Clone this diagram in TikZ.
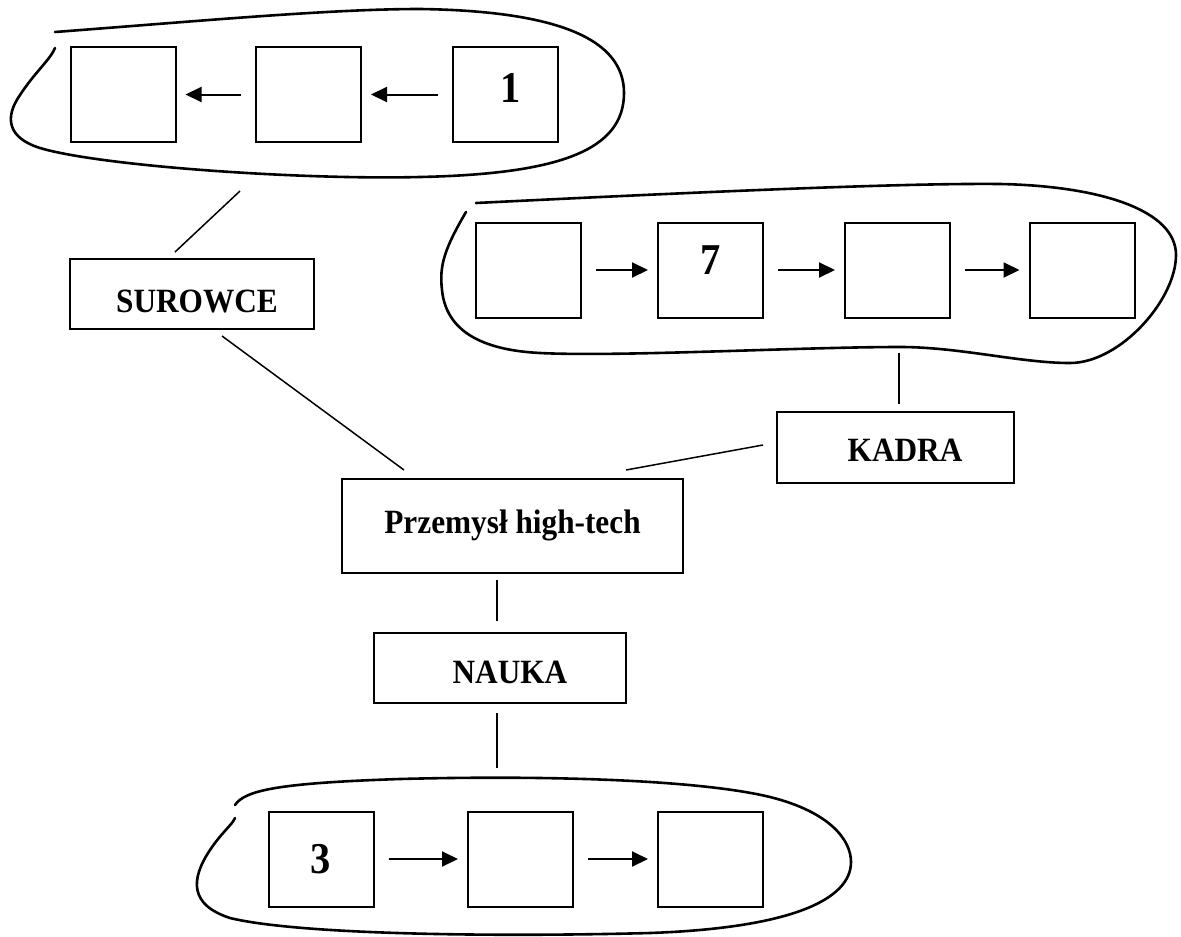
\documentclass[tikz,border=0pt]{standalone}
\usepackage{fontspec}
\setmainfont{Liberation Serif}
\newfontfamily\labfont[FakeStretch=0.92]{Liberation Serif}
\usetikzlibrary{arrows.meta}
\tikzset{
  sq/.style={draw, line width=2pt, minimum width=105pt, minimum height=95pt, inner sep=0pt,
    font=\labfont\bfseries\fontsize{44}{50}\selectfont},
  lbl/.style={draw, line width=2pt, inner sep=0pt, font=\labfont\bfseries\fontsize{34}{40}\selectfont},
  blob/.style={line width=2.6pt, line cap=round},
  conn/.style={line width=1.5pt},
  arr/.style={line width=2pt, -{Triangle[length=16pt,width=15pt]}, shorten <=14pt, shorten >=9pt},
}
\begin{document}
\begin{tikzpicture}[x=1pt,y=-1pt]
\useasboundingbox (0,0) rectangle (1181,937);

% ---- top group
\node[sq] (A) at (123,94.5) {};
\node[sq] (B) at (308.5,94.5) {};
\node[sq, text height=16pt, text depth=0pt] (C) at (505.5,94.5) {\hspace*{11pt}1};
\draw[arr] (B) -- (A);
\draw[arr] (C) -- (B);
\draw[blob] (55,32) .. controls (200,21) and (330,9) .. (420,9)
  .. controls (560,11) and (624,40) .. (624,93)
  .. controls (624,150) and (560,174) .. (420,177)
  .. controls (300,180) and (100,166) .. (40,148)
  .. controls (8,138) and (4,118) .. (20,95)
  .. controls (35,72) and (50,60) .. (55,48);

% ---- middle group
\node[sq] (D) at (528.5,270) {};
\node[sq, text height=9pt, text depth=0pt] (E) at (710.5,270) {7};
\node[sq] (F) at (897.5,270) {};
\node[sq] (G) at (1082,270) {};
\draw[arr] (D) -- (E);
\draw[arr] (E) -- (F);
\draw[arr] (F) -- (G);
\draw[blob] (476,203) .. controls (700,192) and (900,183) .. (1000,184)
  .. controls (1100,186) and (1176,210) .. (1176,255)
  .. controls (1176,300) and (1120,363) .. (1070,363)
  .. controls (1020,363) and (960,347) .. (900,347)
  .. controls (800,347) and (620,357) .. (540,353)
  .. controls (480,350) and (446,330) .. (442,290)
  .. controls (439,265) and (445,248) .. (466,212);

% ---- bottom group
\node[sq] (H) at (321,859) {3};
\node[sq] (I) at (520.5,859) {};
\node[sq] (J) at (710.5,859) {};
\draw[arr] (H) -- (I);
\draw[arr] (I) -- (J);
\draw[blob] (235,805) .. controls (245,790) and (280,783) .. (400,779)
  .. controls (550,775) and (700,780) .. (770,797)
  .. controls (830,812) and (851,840) .. (851,862)
  .. controls (851,900) and (790,928) .. (650,933)
  .. controls (500,937) and (300,935) .. (230,918)
  .. controls (190,905) and (190,880) .. (210,850)
  .. controls (222,832) and (232,825) .. (235,818);

% ---- labels
\node[lbl, minimum width=244pt, minimum height=70pt, text height=36pt, text depth=0pt] (sur) at (192,294) {\hspace*{10pt}SUROWCE};
\node[lbl, minimum width=237pt, minimum height=71pt, text height=27pt, text depth=0pt] (kad) at (895.5,447.5) {\hspace*{19pt}KADRA};
\node[lbl, minimum width=341pt, minimum height=94pt, text height=22pt, text depth=8pt] (prz) at (512.5,526) {Przemysł high-tech};
\node[lbl, minimum width=252pt, minimum height=70pt, text height=30pt, text depth=0pt] (nau) at (500,668) {\hspace*{20pt}NAUKA};

% ---- connectors
\coordinate (s1) at (240,191); \coordinate (s2) at (175,252);
\coordinate (s3) at (222,336); \coordinate (s4) at (404,470);
\coordinate (k1) at (763,445); \coordinate (k2) at (626,470);
\coordinate (k3) at (899,353); \coordinate (k4) at (899,404);
\coordinate (n1) at (497,580); \coordinate (n2) at (497,621);
\coordinate (n3) at (497,713); \coordinate (n4) at (497,768);
\draw[conn] (s1) -- (s2);
\draw[conn] (s3) -- (s4);
\draw[conn] (k1) -- (k2);
\draw[conn] (k3) -- (k4);
\draw[conn] (n1) -- (n2);
\draw[conn] (n3) -- (n4);
\end{tikzpicture}
\end{document}
